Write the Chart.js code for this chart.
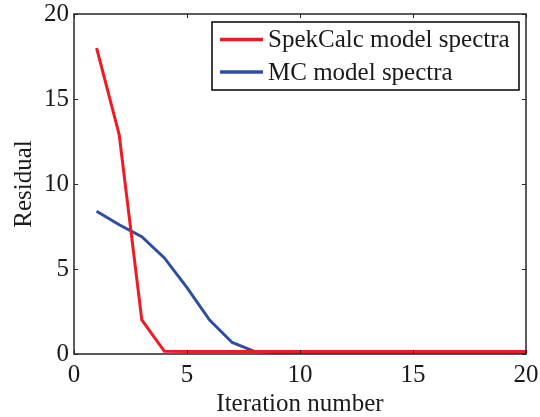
<!DOCTYPE html>
<html>
<head>
<meta charset="utf-8">
<script src="https://cdn.jsdelivr.net/npm/chart.js@4"></script>
<style>
  html, body { margin: 0; padding: 0; background: #fff; }
  #wrap { width: 540px; height: 417px; }
</style>
</head>
<body>
<div id="wrap"><canvas id="residualChart" width="540" height="417"></canvas></div>
<script>
// Data
const iterations = [1, 2, 3, 4, 5, 6, 7, 8, 9, 10, 11, 12, 13, 14, 15, 16, 17, 18, 19, 20];
const spekCalc = [18.0, 12.9, 2.0, 0.16, 0.14, 0.14, 0.14, 0.14, 0.14, 0.14, 0.14, 0.14, 0.14, 0.14, 0.14, 0.14, 0.14, 0.14, 0.14, 0.14];
const mcModel = [8.4, 7.6, 6.9, 5.65, 3.9, 2.0, 0.68, 0.14, 0.1, 0.1, 0.1, 0.1, 0.1, 0.1, 0.1, 0.1, 0.1, 0.1, 0.1, 0.1];
const seriesNames = ['SpekCalc model spectra', 'MC model spectra'];
const xTicks = [0, 5, 10, 15, 20];
const yTicks = [0, 5, 10, 15, 20];

const RED = '#ed1c24';
const BLUE = '#2e4fa0';
const FONT = '"Liberation Serif", "Times New Roman", serif';

// Box, inner ticks and legend (matlab look)
const matlabFrame = {
  id: 'matlabFrame',
  afterDatasetsDraw(chart) {
    const { ctx, chartArea: a, scales } = chart;
    ctx.save();
    ctx.strokeStyle = '#262626';
    ctx.lineWidth = 1;
    ctx.beginPath();
    xTicks.forEach(v => {
      const px = Math.round(scales.x.getPixelForValue(v)) + 0.5;
      ctx.moveTo(px, a.bottom); ctx.lineTo(px, a.bottom - 4);
      ctx.moveTo(px, a.top); ctx.lineTo(px, a.top + 4);
    });
    yTicks.forEach(v => {
      const py = Math.round(scales.y.getPixelForValue(v)) + 0.5;
      ctx.moveTo(a.left, py); ctx.lineTo(a.left + 4, py);
      ctx.moveTo(a.right, py); ctx.lineTo(a.right - 4, py);
    });
    ctx.stroke();
    ctx.lineWidth = 1.5;
    ctx.strokeRect(a.left, a.top, a.right - a.left, a.bottom - a.top);

    // legend
    const box = { x: 212, y: 22, w: 307, h: 68 };
    ctx.fillStyle = '#fff';
    ctx.fillRect(box.x, box.y, box.w, box.h);
    ctx.strokeStyle = '#000';
    ctx.lineWidth = 1.5;
    ctx.strokeRect(box.x, box.y, box.w, box.h);
    ctx.font = '25px ' + FONT;
    ctx.textBaseline = 'middle';
    chart.data.datasets.forEach((ds, i) => {
      const y = box.y + 17.5 + i * 32.5;
      ctx.strokeStyle = ds.borderColor;
      ctx.lineWidth = 3.5;
      ctx.beginPath();
      ctx.moveTo(box.x + 8, y); ctx.lineTo(box.x + 51, y);
      ctx.stroke();
      ctx.fillStyle = '#1a1a1a';
      ctx.fillText(ds.label, box.x + 56, y + 1);
    });
    ctx.restore();
  }
};

new Chart(document.getElementById('residualChart'), {
  type: 'line',
  data: {
    datasets: [
      { label: seriesNames[0], data: iterations.map((x, i) => ({ x, y: spekCalc[i] })), borderColor: RED, backgroundColor: RED },
      { label: seriesNames[1], data: iterations.map((x, i) => ({ x, y: mcModel[i] })), borderColor: BLUE, backgroundColor: BLUE }
    ]
  },
  options: {
    responsive: false,
    animation: false,
    layout: { padding: { top: 14, right: 14, left: 0, bottom: 0 } },
    elements: { line: { borderWidth: 3, tension: 0 }, point: { radius: 0 } },
    plugins: { legend: { display: false }, tooltip: { enabled: false } },
    scales: {
      x: {
        type: 'linear', min: 0, max: 20,
        afterBuildTicks: s => { s.ticks = xTicks.map(v => ({ value: v })); },
        afterFit: s => { s.height = 63; s.paddingLeft = 0; s.paddingRight = 0; },
        grid: { display: false, drawTicks: false },
        border: { display: false },
        ticks: { padding: 6, color: '#1a1a1a', font: { family: FONT, size: 25 } },
        title: { display: true, text: 'Iteration number', color: '#1a1a1a', padding: { top: 0, bottom: 0 }, font: { family: FONT, size: 25, lineHeight: 1.0 } }
      },
      y: {
        min: 0, max: 20,
        afterBuildTicks: s => { s.ticks = yTicks.map(v => ({ value: v })); },
        afterFit: s => { s.width = 74; s.paddingTop = 0; s.paddingBottom = 0; },
        grid: { display: false, drawTicks: false },
        border: { display: false },
        ticks: { padding: 5, color: '#1a1a1a', font: { family: FONT, size: 25 } },
        title: { display: true, text: 'Residual', color: '#1a1a1a', padding: { top: 9, bottom: 0 }, font: { family: FONT, size: 25 } }
      }
    }
  },
  plugins: [matlabFrame]
});
</script>
</body>
</html>
